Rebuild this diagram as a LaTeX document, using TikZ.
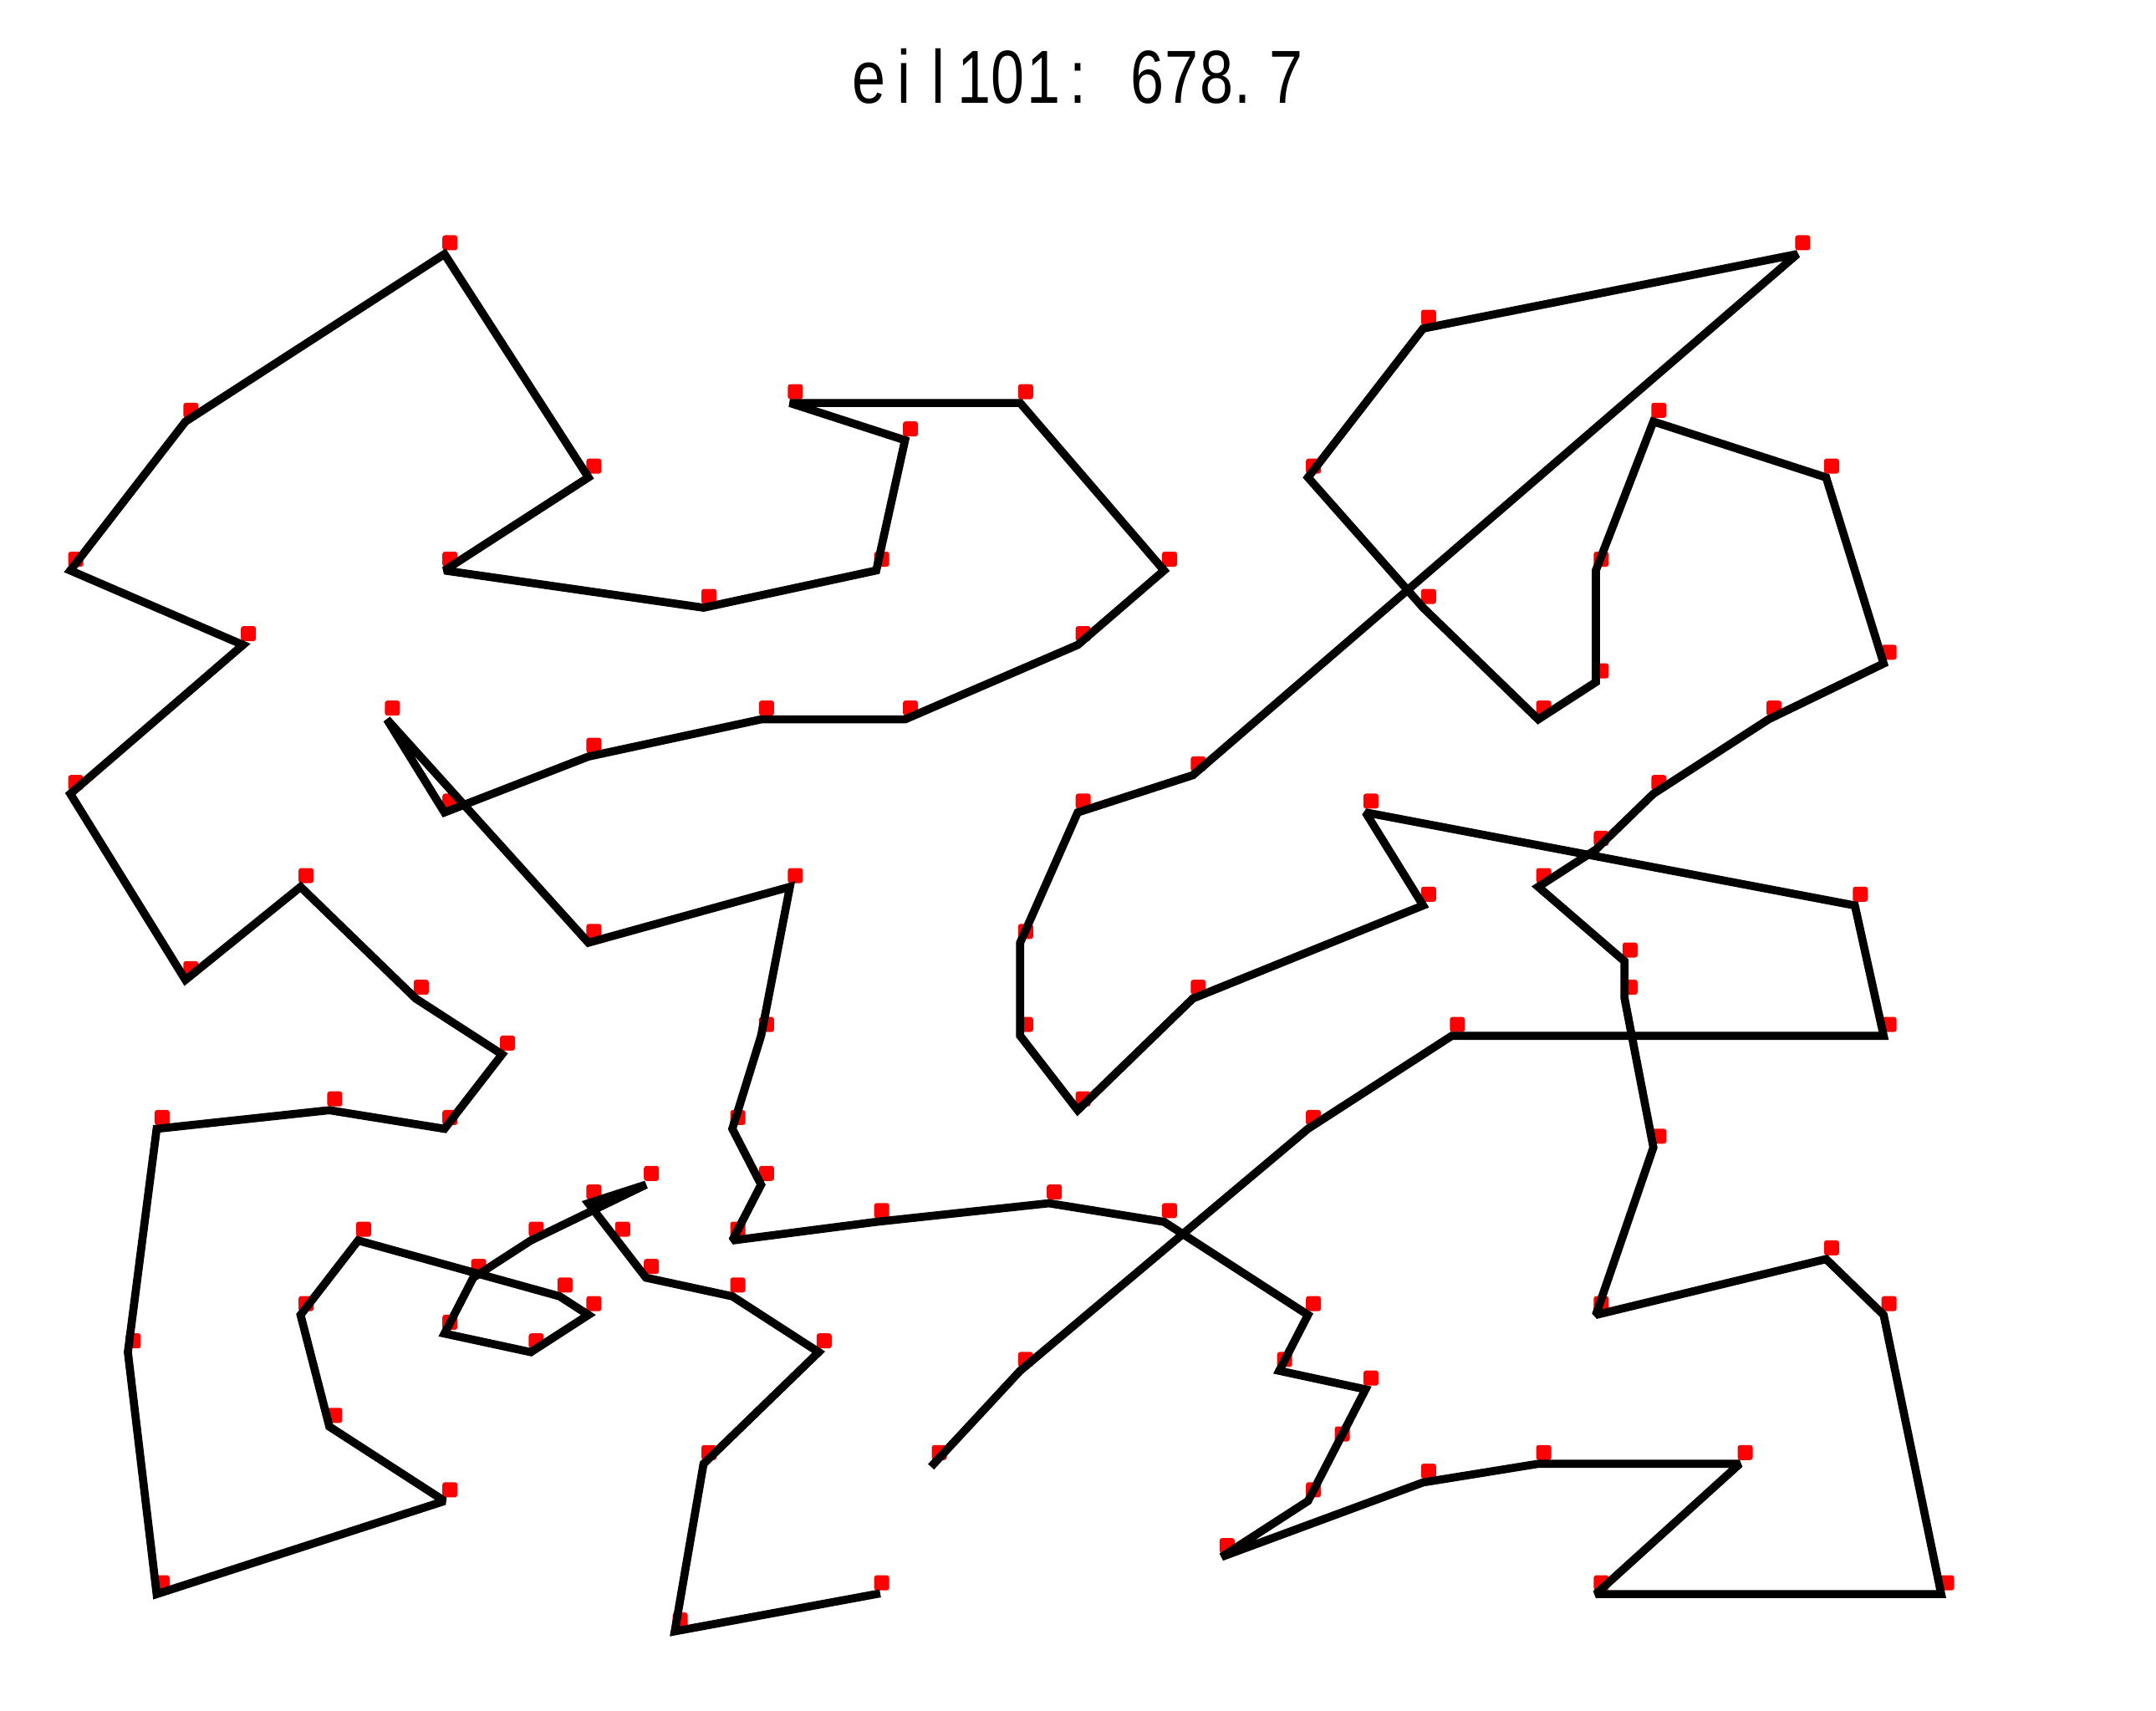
\documentclass[tikz,border=0pt]{standalone}
\usepackage{fontspec}
\newfontfamily\titlefont{Liberation Sans}
\tikzset{
  city/.style={rectangle, fill=red, draw=none, minimum size=18pt, inner sep=0pt, rounded corners=3pt},
  tour/.style={draw=black, line width=9.7pt, line join=miter, miter limit=2, line cap=rect},
  ttl/.style={inner sep=0pt, anchor=base, font=\titlefont\fontsize{90}{90}\selectfont}
}
\begin{document}
\begin{tikzpicture}[x=34.43pt, y=22.266pt]
\fill[white] (-0.6317,-1.886) rectangle (74.274,90.047);
\useasboundingbox (-0.6317,-1.886) rectangle (74.274,90.047);
% cities: markers at data points, tour vertices slightly offset (as in the plot)
\foreach \n/\x/\y in {1/41/49, 2/35/17, 3/55/45, 4/55/20, 5/15/30, 6/25/30, 7/20/50, 8/10/43, 9/55/60, 10/30/60, 11/20/65, 12/50/35, 13/30/25, 14/15/10, 15/30/5, 16/10/20, 17/5/30, 18/20/40, 19/15/60, 20/45/65, 21/45/20, 22/45/10, 23/55/5, 24/65/35, 25/65/20, 26/45/30, 27/35/40, 28/41/37, 29/64/42, 30/40/60, 31/31/52, 32/35/69, 33/53/52, 34/65/55, 35/63/65, 36/2/60, 37/20/20, 38/5/5, 39/60/12, 40/40/25, 41/42/7, 42/24/12, 43/23/3, 44/11/14, 45/6/38, 46/2/48, 47/8/56, 48/13/52, 49/6/68, 50/47/47, 51/49/58, 52/27/43, 53/37/31, 54/57/29, 55/63/23, 56/53/12, 57/32/12, 58/36/26, 59/21/24, 60/17/34, 61/12/24, 62/24/58, 63/27/69, 64/15/77, 65/62/77, 66/49/73, 67/67/5, 68/56/39, 69/37/47, 70/37/56, 71/57/68, 72/47/16, 73/44/17, 74/46/13, 75/49/11, 76/49/42, 77/53/43, 78/61/52, 79/57/48, 80/56/37, 81/55/54, 82/15/47, 83/14/37, 84/11/31, 85/16/22, 86/4/18, 87/28/18, 88/26/52, 89/26/35, 90/31/67, 91/15/19, 92/22/22, 93/18/24, 94/26/27, 95/25/24, 96/22/27, 97/25/21, 98/19/21, 99/20/26, 100/18/18, 101/35/35}{
  \node[city] (m\n) at (\x,\y) {};
  \coordinate (v\n) at ({\x-0.189},{\y-0.606});
}
\draw[tour] (v15) -- (v43) -- (v42) -- (v87) -- (v97) -- (v92) -- (v59) -- (v99) -- (v96) -- (v93) -- (v85) -- (v91) -- (v100) -- (v37) -- (v98) -- (v61) -- (v16) -- (v44) -- (v14) -- (v38) -- (v86) -- (v17) -- (v84) -- (v5) -- (v60) -- (v83) -- (v8) -- (v45) -- (v46) -- (v47) -- (v36) -- (v49) -- (v64) -- (v11) -- (v19) -- (v62) -- (v10) -- (v90) -- (v63) -- (v32) -- (v30) -- (v70) -- (v31) -- (v88) -- (v7) -- (v82) -- (v48) -- (v18) -- (v52) -- (v89) -- (v6) -- (v94) -- (v95) -- (v13) -- (v58) -- (v40) -- (v21) -- (v73) -- (v72) -- (v74) -- (v22) -- (v41) -- (v75) -- (v56) -- (v39) -- (v23) -- (v67) -- (v25) -- (v55) -- (v4) -- (v54) -- (v80) -- (v68) -- (v77) -- (v3) -- (v79) -- (v78) -- (v34) -- (v35) -- (v71) -- (v9) -- (v81) -- (v33) -- (v51) -- (v20) -- (v66) -- (v65) -- (v1) -- (v69) -- (v27) -- (v101) -- (v53) -- (v28) -- (v76) -- (v50) -- (v29) -- (v24) -- (v12) -- (v26) -- (v2) -- (v57);
% title, one character per fixed-width cell
\node[ttl] (t1) at (29.563,84.52) {\scalebox{0.8}[1]{e}};
\node[ttl] (t2) at (30.771,84.52) {\scalebox{0.8}[1]{i}};
\node[ttl] (t3) at (31.979,84.52) {\scalebox{0.8}[1]{l}};
\node[ttl] (t4) at (33.22,84.52) {\scalebox{0.8}[1]{1}};
\node[ttl] (t5) at (34.395,84.52) {\scalebox{0.8}[1]{0}};
\node[ttl] (t6) at (35.63,84.52) {\scalebox{0.8}[1]{1}};
\node[ttl] (t7) at (36.811,84.52) {\scalebox{0.8}[1]{:}};
\node[ttl] (t8) at (39.227,84.52) {\scalebox{0.8}[1]{6}};
\node[ttl] (t9) at (40.435,84.52) {\scalebox{0.8}[1]{7}};
\node[ttl] (t10) at (41.643,84.52) {\scalebox{0.8}[1]{8}};
\node[ttl] (t11) at (42.55,84.52) {\scalebox{0.8}[1]{.}};
\node[ttl] (t12) at (44.06,84.52) {\scalebox{0.8}[1]{7}};
\end{tikzpicture}
\end{document}
